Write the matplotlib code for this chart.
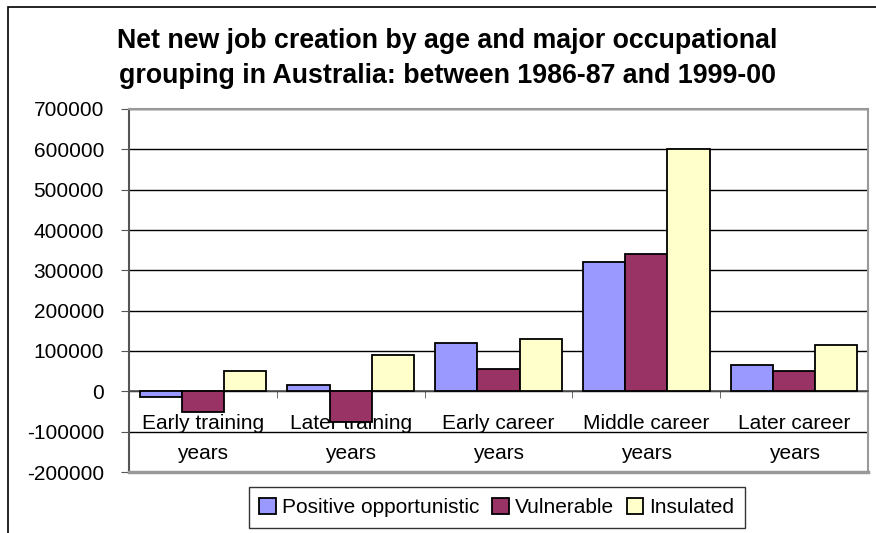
import numpy as np
import matplotlib
matplotlib.use("Agg")
from matplotlib import pyplot as plt
from matplotlib.patches import Rectangle
from matplotlib.ticker import FixedLocator, FuncFormatter

plt.rcParams["font.family"] = ["Liberation Sans", "DejaVu Sans"]
plt.rcParams["axes.unicode_minus"] = False

categories = ["Early training\nyears", "Later training\nyears", "Early career\nyears",
              "Middle career\nyears", "Later career\nyears"]
series = ["Positive opportunistic", "Vulnerable", "Insulated"]
positive = [-15000, 15000, 120000, 320000, 65000]
vulnerable = [-50000, -75000, 55000, 340000, 50000]
insulated = [50000, 90000, 130000, 600000, 115000]
colors = ["#9999FF", "#993366", "#FFFFCC"]

fig = plt.figure(figsize=(8.76, 5.33), dpi=100)
ax = fig.add_axes([129 / 876, 1 - 472 / 533, (868 - 129) / 876, (472 - 109) / 533])

# outer chart frame (cropped at right/bottom)
fig.patches.append(Rectangle((8 / 876, -0.1), 1.2, 1 - 7 / 533 + 0.1,
                             transform=fig.transFigure, fill=False,
                             edgecolor="black", linewidth=1.2))

x = np.arange(len(categories))
w = 1 / 3.5
for j, (vals, name) in enumerate(zip([positive, vulnerable, insulated], series)):
    ax.bar(x + (j - 1) * w, vals, width=w, color=colors[j], edgecolor="black",
           linewidth=1.3, label=name, zorder=3)

ax.set_xlim(-0.5, 4.5)
ax.set_ylim(-200000, 700000)
ax.yaxis.set_major_locator(FixedLocator(np.arange(-200000, 700001, 100000)))
ax.yaxis.set_major_formatter(FuncFormatter(lambda v, p: "%d" % v))
ax.grid(axis="y", color="black", linewidth=1.0, zorder=0)
ax.set_axisbelow(True)

for s in ["top", "right"]:
    ax.spines[s].set_color("#999999")
    ax.spines[s].set_linewidth(1.5)
ax.spines["left"].set_color("#555555")
ax.spines["left"].set_linewidth(1.5)
ax.spines["bottom"].set_position(("data", 0))
ax.spines["bottom"].set_color("#555555")
ax.spines["bottom"].set_linewidth(1.2)
# bottom border of plot area
ax.axhline(-200000, color="#999999", linewidth=2.5, zorder=4, clip_on=False)

ax.set_xticks(x)
ax.set_xticklabels(categories, fontsize=15, linespacing=1.75)
ax.tick_params(axis="x", which="major", length=0, pad=16)
ax.set_xticks(np.arange(0.5, 5, 1), minor=True)
ax.tick_params(axis="x", which="minor", length=5, direction="out", color="#555555")
ax.tick_params(axis="y", labelsize=15, length=6, pad=12, color="#555555")

fig.text(0.511, 0.891, "Net new job creation by age and major occupational\n"
         "grouping in Australia: between 1986-87 and 1999-00",
         ha="center", va="center", fontsize=19.3, fontweight="bold", linespacing=1.45)

leg = ax.legend(loc="center", bbox_to_anchor=(497 / 876, 1 - 507.5 / 533),
                bbox_transform=fig.transFigure, ncol=3, fontsize=15, frameon=True,
                fancybox=False, edgecolor="black", handlelength=0.8, handleheight=0.8,
                handletextpad=0.3, columnspacing=0.6, borderpad=0.5)
leg.get_frame().set_linewidth(1.0)

fig.savefig("out.png", dpi=100)
